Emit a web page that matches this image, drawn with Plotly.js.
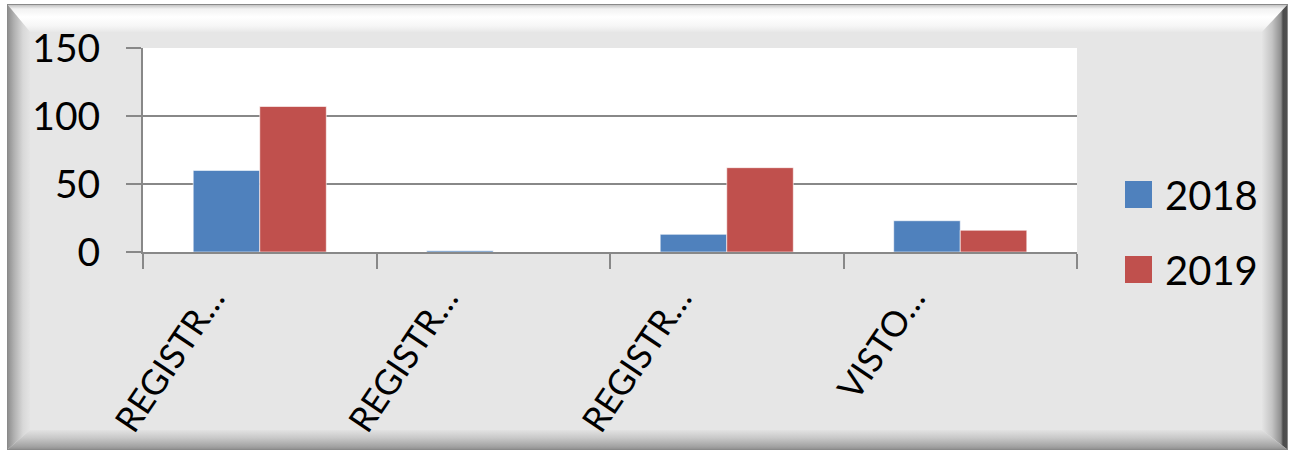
<!DOCTYPE html>
<html>
<head>
<meta charset="utf-8">
<script src="https://cdn.plot.ly/plotly-3.0.1.min.js"></script>
<style>
  html, body { margin: 0; padding: 0; background: #ffffff; }
  #frame { position: absolute; left: 7px; top: 4px; width: 1281px; height: 446px; background: #e6e6e6; }
  .bevel { position: absolute; left: 0; top: 0; width: 100%; height: 100%; }
  #top { background: linear-gradient(to bottom, #b8b8b8 0px, #f2f2f2 5px, #ffffff 13px, #f6f6f6 22px, #e8e8e8 28px);
         clip-path: polygon(0 0, 1281px 0, 1255px 28px, 23px 28px); }
  #left { background: linear-gradient(to right, #8a8a8a 0px, #b0b0b0 7px, #d8d8d8 16px, #e4e4e4 23px);
          clip-path: polygon(0 0, 23px 28px, 23px 426px, 0 446px); }
  #right { background: linear-gradient(to right, #e4e4e4 1255px, #c4c4c4 1265px, #8e8e8e 1274px, #4c4c4c 1276px, #505050 1280px, #9a9a9a 1281px);
           clip-path: polygon(1281px 0, 1281px 446px, 1255px 426px, 1255px 28px); }
  #bottom { background: linear-gradient(to bottom, #e2e2e2 426px, #c8c8c8 434px, #a0a0a0 443px, #8a8a8a 446px);
            clip-path: polygon(0 446px, 23px 426px, 1255px 426px, 1281px 446px); }
  #edge { position: absolute; left: 0; top: 0; width: 1279px; height: 444px; border: 1px solid #8a8a8a; }
  #chart { position: absolute; left: 0; top: 0; width: 1294px; height: 454px; }
</style>
</head>
<body>
<div id="frame">
  <div class="bevel" id="top"></div>
  <div class="bevel" id="left"></div>
  <div class="bevel" id="right"></div>
  <div class="bevel" id="bottom"></div>
  <div id="edge"></div>
</div>
<div id="chart"></div>
<script>
// chart data
let categories = ["REGISTRO 1", "REGISTRO 2", "REGISTRO 3", "VISTO"];
let tickLabels = ["REGISTR…", "REGISTR…", "REGISTR…", "VISTO…"];
let seriesNames = ["2018", "2019"];
let values2018 = [60, 1, 13, 23];
let values2019 = [107, 0, 62, 16];
let seriesColors = ["#4f81bd", "#c0504d"];

let fontFamily = "Lato, 'Open Sans', sans-serif";

let traces = [values2018, values2019].map((vals, i) => ({
    type: "bar",
    name: seriesNames[i],
    x: categories,
    y: vals,
    marker: { color: seriesColors[i], line: { color: "rgba(255,255,255,0.6)", width: 1 } },
    showlegend: false,
    hoverinfo: "x+y"
}));

// legend drawn by hand so the swatches can be as large as the original
let legendShapes = [];
let legendNotes = [];
seriesNames.forEach((name, i) => {
    let cy = 195 + i * 75;
    legendShapes.push({
        type: "rect", xref: "paper", yref: "paper", layer: "above",
        x0: (1125 - 143) / 934, x1: (1152 - 143) / 934,
        y0: (252 - (cy + 13)) / 204, y1: (252 - (cy - 14)) / 204,
        fillcolor: seriesColors[i], line: { width: 0 }
    });
    legendNotes.push({
        xref: "paper", yref: "paper", showarrow: false,
        x: (1163 - 143) / 934, y: (252 - cy) / 204,
        xanchor: "left", yanchor: "middle",
        text: name, font: { family: fontFamily, size: 40, color: "#000" }
    });
});

let layout = {
    width: 1294,
    height: 454,
    margin: { l: 143, r: 217, t: 48, b: 202 },
    paper_bgcolor: "rgba(0,0,0,0)",
    plot_bgcolor: "#ffffff",
    barmode: "group",
    bargap: 0.43,
    bargroupgap: 0,
    showlegend: false,
    font: { family: fontFamily, color: "#000" },
    xaxis: {
        type: "category",
        tickmode: "array",
        tickvals: categories,
        ticktext: tickLabels,
        tickangle: -56,
        tickson: "boundaries",
        ticks: "outside",
        ticklen: 15,
        tickwidth: 2,
        tickcolor: "#888888",
        showline: true,
        linecolor: "#888888",
        linewidth: 2,
        showgrid: false,
        ticklabelshift: -48,
        ticklabelstandoff: 10,
        tickfont: { size: 35, family: fontFamily }
    },
    yaxis: {
        range: [0, 150],
        dtick: 50,
        ticks: "outside",
        ticklen: 15,
        tickwidth: 2,
        tickcolor: "#888888",
        showline: true,
        linecolor: "#888888",
        linewidth: 2,
        gridcolor: "#888888",
        gridwidth: 2,
        zeroline: false,
        ticklabelstandoff: 18,
        tickfont: { size: 39, family: fontFamily }
    },
    shapes: legendShapes,
    annotations: legendNotes
};

Plotly.newPlot("chart", traces, layout, { displayModeBar: false, staticPlot: true });
</script>
</body>
</html>
